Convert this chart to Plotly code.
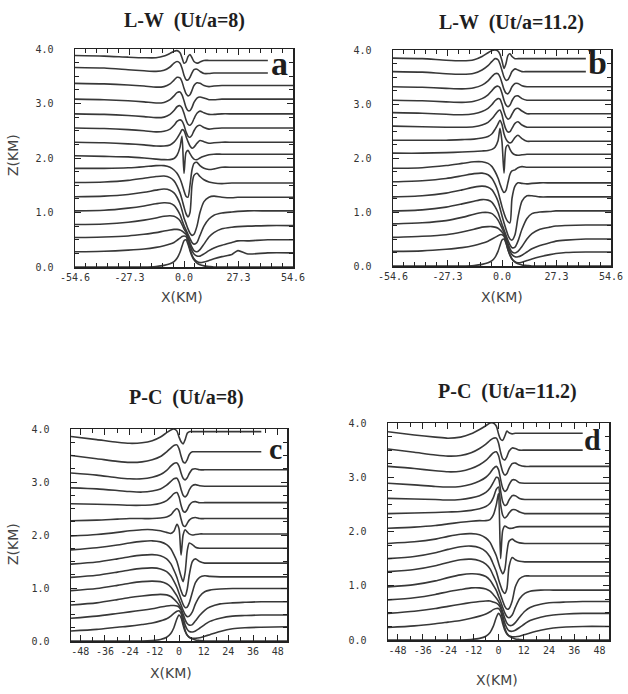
import plotly.graph_objects as go

# ---------------- data ----------------
GRID_AB = [-54.6, -40, -28, -20, -14, -10, -7, -5, -3.5, -2, -1, 0, 1, 2, 3, 4, 5, 6.5, 8, 10, 12.5, 15, 19, 24, 27, 32, 42, 54.6]
GRID_CD = [-52.5, -40, -30, -24, -18, -13, -9, -6, -4, -2.5, -1, 0, 1, 2, 3, 4, 5, 6.5, 8, 10, 12.5, 15, 20, 26, 32, 40, 52.5]

GROUND_AB = [0, 0, 0, 0, 0.01, 0.03, 0.06, 0.1, 0.16, 0.27, 0.38, 0.48, 0.5, 0.42, 0.3, 0.2, 0.13, 0.07, 0.04, 0.02, 0.01, 0, 0, 0, 0, 0, 0, 0]
GROUND_CD = [0, 0, 0, 0, 0, 0.01, 0.03, 0.07, 0.14, 0.25, 0.42, 0.49, 0.44, 0.3, 0.18, 0.11, 0.07, 0.04, 0.02, 0.01, 0, 0, 0, 0, 0, 0, 0]

LW8_LINES = [
    [0.28, 0.29, 0.31, 0.33, 0.36, 0.39, 0.42, 0.45, 0.49, 0.53, 0.56, 0.57, 0.56, 0.47, 0.33, 0.22, 0.15, 0.1, 0.08, 0.09, 0.12, 0.15, 0.19, 0.23, 0.3, 0.24, 0.26, 0.26],
    [0.54, 0.55, 0.57, 0.6, 0.63, 0.66, 0.68, 0.69, 0.69, 0.68, 0.66, 0.63, 0.6, 0.52, 0.4, 0.3, 0.24, 0.2, 0.2, 0.24, 0.3, 0.35, 0.4, 0.45, 0.48, 0.48, 0.5, 0.5],
    [0.78, 0.79, 0.82, 0.86, 0.9, 0.93, 0.94, 0.93, 0.9, 0.85, 0.78, 0.7, 0.64, 0.56, 0.45, 0.36, 0.3, 0.28, 0.32, 0.42, 0.55, 0.63, 0.7, 0.73, 0.74, 0.75, 0.76, 0.76],
    [1.03, 1.04, 1.08, 1.12, 1.16, 1.18, 1.17, 1.13, 1.06, 0.96, 0.86, 0.76, 0.68, 0.6, 0.52, 0.45, 0.42, 0.45, 0.58, 0.75, 0.88, 0.95, 0.99, 1.01, 1.02, 1.03, 1.03, 1.03],
    [1.29, 1.3, 1.33, 1.37, 1.41, 1.43, 1.41, 1.36, 1.28, 1.16, 1.04, 0.9, 0.8, 0.7, 0.62, 0.58, 0.6, 0.75, 1.0, 1.2, 1.28, 1.3, 1.28, 1.27, 1.28, 1.28, 1.28, 1.28],
    [1.55, 1.56, 1.59, 1.63, 1.66, 1.67, 1.64, 1.58, 1.49, 1.36, 1.24, 1.1, 0.98, 0.92, 1.0, 1.5, 1.68, 1.72, 1.66, 1.6, 1.56, 1.54, 1.53, 1.54, 1.54, 1.54, 1.54, 1.54],
    [1.81, 1.81, 1.82, 1.84, 1.86, 1.86, 1.83, 1.78, 1.72, 1.62, 1.52, 1.4, 1.3, 1.28, 1.5, 1.78, 1.9, 1.92, 1.86, 1.81, 1.79, 1.8, 1.83, 1.83, 1.83, 1.83, 1.83, 1.83],
    [2.04, 2.03, 2.02, 2.0, 1.98, 1.97, 1.97, 1.99, 2.05, 2.2, 2.4, 1.72, 2.1, 2.14, 2.08, 2.02, 1.98, 1.97, 2.0, 2.03, 2.06, 2.07, 2.07, 2.07, 2.07, 2.07, 2.07, 2.07],
    [2.29, 2.28, 2.26, 2.24, 2.22, 2.22, 2.24, 2.29, 2.36, 2.45, 2.52, 2.5, 2.4, 2.3, 2.22, 2.18, 2.2, 2.27, 2.32, 2.3, 2.27, 2.28, 2.29, 2.29, 2.29, 2.29, 2.29, 2.29],
    [2.55, 2.54, 2.52, 2.5, 2.48, 2.49, 2.53, 2.6, 2.67, 2.7, 2.68, 2.6, 2.48, 2.4, 2.38, 2.42, 2.5, 2.58, 2.6, 2.56, 2.53, 2.54, 2.55, 2.55, 2.55, 2.55, 2.55, 2.55],
    [2.81, 2.8, 2.78, 2.76, 2.74, 2.75, 2.8, 2.87, 2.94, 2.96, 2.92, 2.82, 2.7, 2.62, 2.6, 2.64, 2.72, 2.82, 2.86, 2.83, 2.8, 2.8, 2.81, 2.81, 2.81, 2.81, 2.81, 2.81],
    [3.08, 3.07, 3.05, 3.03, 3.01, 3.02, 3.07, 3.14, 3.2, 3.21, 3.16, 3.05, 2.93, 2.87, 2.87, 2.93, 3.02, 3.1, 3.12, 3.1, 3.07, 3.07, 3.08, 3.08, 3.08, 3.08, 3.08, 3.08],
    [3.37, 3.36, 3.34, 3.32, 3.3, 3.31, 3.36, 3.43, 3.48, 3.47, 3.4, 3.28, 3.18, 3.14, 3.16, 3.24, 3.33, 3.38, 3.37, 3.33, 3.31, 3.32, 3.33, 3.33, 3.33, 3.33, 3.33, 3.33],
    [3.66, 3.65, 3.62, 3.6, 3.59, 3.61, 3.67, 3.74, 3.77, 3.74, 3.65, 3.52, 3.44, 3.43, 3.48, 3.56, 3.62, 3.63, 3.59, 3.55, 3.55, 3.56, 3.56, 3.56, 3.56, 3.56, 3.56, None],
    [3.88, 3.87, 3.85, 3.84, 3.84, 3.87, 3.92, 3.96, 3.97, 3.93, 3.84, 3.74, 3.76, 3.86, 3.9, 3.84, 3.77, 3.74, 3.76, 3.79, 3.79, 3.79, 3.79, 3.79, 3.79, 3.79, 3.79, None],
]

LW112_LINES = [
    [0.27, 0.28, 0.31, 0.34, 0.38, 0.42, 0.46, 0.5, 0.53, 0.56, 0.58, 0.58, 0.55, 0.44, 0.3, 0.2, 0.13, 0.08, 0.06, 0.07, 0.1, 0.13, 0.17, 0.21, 0.23, 0.25, 0.26, 0.26],
    [0.53, 0.55, 0.58, 0.63, 0.68, 0.72, 0.73, 0.73, 0.72, 0.7, 0.67, 0.63, 0.58, 0.48, 0.36, 0.27, 0.21, 0.17, 0.17, 0.2, 0.26, 0.32, 0.38, 0.43, 0.46, 0.48, 0.5, 0.5],
    [0.78, 0.8, 0.84, 0.9, 0.96, 0.99, 0.99, 0.97, 0.92, 0.85, 0.78, 0.7, 0.62, 0.52, 0.41, 0.32, 0.26, 0.24, 0.27, 0.36, 0.5, 0.6, 0.68, 0.72, 0.74, 0.75, 0.76, 0.76],
    [1.02, 1.04, 1.09, 1.15, 1.2, 1.23, 1.22, 1.18, 1.1, 0.99, 0.88, 0.77, 0.67, 0.57, 0.47, 0.39, 0.34, 0.35, 0.46, 0.68, 0.88, 0.97, 1.0, 1.01, 1.02, 1.02, 1.02, 1.02],
    [1.28, 1.3, 1.35, 1.41, 1.46, 1.48, 1.46, 1.41, 1.32, 1.2, 1.07, 0.93, 0.8, 0.68, 0.57, 0.5, 0.48, 0.58, 0.9, 1.2, 1.3, 1.3, 1.28, 1.28, 1.28, 1.28, 1.28, 1.28],
    [1.56, 1.58, 1.62, 1.67, 1.71, 1.72, 1.69, 1.62, 1.52, 1.38, 1.24, 1.1, 0.98, 0.88, 0.82, 0.8, 1.25, 1.48, 1.54, 1.53, 1.52, 1.53, 1.54, 1.54, 1.54, 1.54, 1.54, 1.54],
    [1.81, 1.82, 1.86, 1.9, 1.93, 1.93, 1.9, 1.84, 1.75, 1.63, 1.52, 1.42, 1.36, 1.4, 1.55, 1.7, 1.76, 1.78, 1.82, 1.84, 1.83, 1.83, 1.83, 1.83, 1.83, 1.83, 1.83, 1.83],
    [2.09, 2.09, 2.1, 2.11, 2.12, 2.13, 2.14, 2.16, 2.2, 2.32, 2.55, 2.3, 1.72, 2.2, 2.24, 2.16, 2.1, 2.06, 2.05, 2.06, 2.07, 2.07, 2.07, 2.07, 2.07, 2.07, 2.07, 2.07],
    [2.33, 2.33, 2.33, 2.34, 2.35, 2.37, 2.4, 2.45, 2.53, 2.63, 2.7, 2.62, 2.45, 2.35, 2.3, 2.28, 2.3, 2.38, 2.42, 2.36, 2.31, 2.31, 2.31, 2.31, 2.31, 2.31, 2.31, 2.31],
    [2.59, 2.58, 2.57, 2.57, 2.58, 2.61, 2.66, 2.73, 2.8, 2.87, 2.89, 2.8, 2.64, 2.53, 2.48, 2.49, 2.55, 2.64, 2.67, 2.61, 2.57, 2.57, 2.57, 2.57, 2.57, 2.57, 2.57, 2.57],
    [2.84, 2.83, 2.81, 2.8, 2.82, 2.86, 2.92, 2.99, 3.06, 3.1, 3.09, 3.0, 2.86, 2.76, 2.72, 2.74, 2.81, 2.9, 2.92, 2.87, 2.82, 2.82, 2.82, 2.82, 2.82, 2.82, 2.82, 2.82],
    [3.07, 3.06, 3.04, 3.03, 3.05, 3.1, 3.17, 3.25, 3.31, 3.33, 3.3, 3.2, 3.07, 2.98, 2.95, 2.98, 3.06, 3.14, 3.15, 3.1, 3.07, 3.07, 3.07, 3.07, 3.07, 3.07, 3.07, 3.07],
    [3.32, 3.31, 3.29, 3.28, 3.3, 3.35, 3.43, 3.51, 3.56, 3.56, 3.5, 3.39, 3.27, 3.2, 3.19, 3.24, 3.32, 3.38, 3.38, 3.34, 3.32, 3.32, 3.32, 3.32, 3.32, 3.32, 3.32, 3.32],
    [3.6, 3.59, 3.56, 3.55, 3.57, 3.63, 3.71, 3.79, 3.84, 3.82, 3.74, 3.62, 3.5, 3.44, 3.45, 3.52, 3.6, 3.65, 3.63, 3.6, 3.6, 3.6, 3.6, 3.6, 3.6, 3.6, 3.6, None],
    [3.85, 3.84, 3.81, 3.8, 3.82, 3.88, 3.95, 3.99, 4.0, 3.98, 3.92, 3.8, 3.66, 3.75, 3.9, 3.93, 3.88, 3.84, 3.84, 3.84, 3.84, 3.84, 3.84, 3.84, 3.84, 3.84, 3.84, None],
]

PC8_LINES = [
    [0.19, 0.22, 0.26, 0.28, 0.31, 0.34, 0.38, 0.42, 0.47, 0.52, 0.56, 0.57, 0.52, 0.36, 0.2, 0.11, 0.07, 0.05, 0.05, 0.06, 0.09, 0.12, 0.18, 0.23, 0.25, 0.26, 0.27],
    [0.43, 0.47, 0.52, 0.55, 0.58, 0.61, 0.64, 0.66, 0.67, 0.67, 0.66, 0.64, 0.58, 0.44, 0.3, 0.22, 0.18, 0.17, 0.19, 0.24, 0.31, 0.37, 0.43, 0.47, 0.48, 0.49, 0.49],
    [0.68, 0.72, 0.78, 0.82, 0.85, 0.87, 0.88, 0.87, 0.84, 0.79, 0.73, 0.68, 0.61, 0.51, 0.4, 0.33, 0.3, 0.31, 0.38, 0.48, 0.58, 0.64, 0.7, 0.72, 0.73, 0.74, 0.74],
    [0.95, 0.99, 1.05, 1.09, 1.12, 1.13, 1.12, 1.08, 1.02, 0.94, 0.85, 0.77, 0.68, 0.58, 0.5, 0.46, 0.47, 0.55, 0.7, 0.84, 0.93, 0.96, 0.98, 0.99, 0.99, 0.99, 0.99],
    [1.2, 1.24, 1.3, 1.34, 1.37, 1.38, 1.36, 1.31, 1.23, 1.13, 1.01, 0.9, 0.79, 0.69, 0.63, 0.64, 0.72, 0.92, 1.1, 1.2, 1.23, 1.22, 1.21, 1.21, 1.21, 1.21, 1.21],
    [1.45, 1.49, 1.55, 1.59, 1.62, 1.63, 1.61, 1.55, 1.46, 1.34, 1.2, 1.07, 0.95, 0.86, 0.85, 0.98, 1.25, 1.5, 1.55, 1.5, 1.47, 1.47, 1.47, 1.47, 1.47, 1.47, 1.47],
    [1.72, 1.76, 1.81, 1.85, 1.88, 1.89, 1.87, 1.82, 1.74, 1.63, 1.5, 1.36, 1.22, 1.12, 1.3, 1.7, 1.85, 1.82, 1.77, 1.75, 1.75, 1.75, 1.75, 1.75, 1.75, 1.75, 1.75],
    [1.98, 2.01, 2.05, 2.08, 2.1, 2.1, 2.08, 2.05, 2.03, 2.07, 2.2, 2.12, 1.62, 2.0, 2.1, 2.06, 2.02, 2.0, 2.01, 2.02, 2.02, 2.02, 2.02, 2.02, 2.02, 2.02, 2.02],
    [2.27, 2.28, 2.3, 2.31, 2.31, 2.31, 2.32, 2.34, 2.38, 2.45, 2.5, 2.45, 2.3, 2.18, 2.16, 2.22, 2.28, 2.32, 2.33, 2.31, 2.31, 2.31, 2.31, 2.31, 2.31, 2.31, 2.31],
    [2.59, 2.58, 2.57, 2.56, 2.56, 2.57, 2.6, 2.65, 2.72, 2.78, 2.8, 2.72, 2.56, 2.45, 2.43, 2.48, 2.56, 2.62, 2.63, 2.61, 2.61, 2.61, 2.61, 2.61, 2.61, 2.61, 2.61],
    [2.89, 2.87, 2.84, 2.82, 2.81, 2.83, 2.87, 2.94, 3.01, 3.06, 3.07, 3.0, 2.86, 2.75, 2.72, 2.76, 2.85, 2.93, 2.95, 2.93, 2.92, 2.92, 2.92, 2.92, 2.92, 2.92, 2.92],
    [3.17, 3.13, 3.08, 3.06, 3.06, 3.09, 3.14, 3.22, 3.3, 3.35, 3.36, 3.3, 3.17, 3.07, 3.04, 3.08, 3.16, 3.24, 3.25, 3.23, 3.23, 3.23, 3.23, 3.23, 3.23, 3.23, 3.23],
    [3.5, 3.44, 3.39, 3.37, 3.38, 3.42, 3.48, 3.57, 3.64, 3.69, 3.7, 3.63, 3.49, 3.38, 3.36, 3.42, 3.52, 3.57, 3.57, 3.57, 3.57, 3.57, 3.57, 3.57, 3.57, 3.57, None],
    [3.86, 3.8, 3.75, 3.73, 3.74, 3.78, 3.85, 3.93, 3.98, 4.0, 3.96, 3.85, 3.76, 3.72, 3.8, 3.92, 3.95, 3.95, 3.95, 3.95, 3.95, 3.95, 3.95, 3.95, 3.95, 3.95, None],
]

PC112_LINES = [
    [0.23, 0.26, 0.3, 0.33, 0.36, 0.4, 0.44, 0.48, 0.52, 0.56, 0.58, 0.58, 0.53, 0.38, 0.22, 0.12, 0.08, 0.06, 0.06, 0.07, 0.1, 0.13, 0.18, 0.22, 0.24, 0.25, 0.25],
    [0.49, 0.53, 0.58, 0.62, 0.66, 0.69, 0.71, 0.72, 0.72, 0.7, 0.68, 0.65, 0.59, 0.45, 0.31, 0.22, 0.17, 0.16, 0.18, 0.23, 0.3, 0.36, 0.42, 0.46, 0.48, 0.49, 0.49],
    [0.74, 0.78, 0.84, 0.89, 0.93, 0.96, 0.96, 0.94, 0.9, 0.84, 0.77, 0.71, 0.63, 0.52, 0.4, 0.31, 0.27, 0.27, 0.32, 0.42, 0.53, 0.6, 0.66, 0.69, 0.7, 0.71, 0.71],
    [0.98, 1.02, 1.09, 1.15, 1.2, 1.22, 1.21, 1.17, 1.1, 1.01, 0.91, 0.81, 0.71, 0.6, 0.5, 0.43, 0.41, 0.46, 0.6, 0.76, 0.86, 0.9, 0.92, 0.92, 0.92, 0.92, 0.92],
    [1.26, 1.3, 1.37, 1.43, 1.48, 1.49, 1.46, 1.4, 1.31, 1.19, 1.06, 0.94, 0.83, 0.72, 0.62, 0.57, 0.58, 0.72, 0.98, 1.13, 1.18, 1.18, 1.18, 1.18, 1.18, 1.18, 1.18],
    [1.5, 1.54, 1.61, 1.67, 1.72, 1.73, 1.7, 1.63, 1.53, 1.4, 1.26, 1.12, 1.0, 0.9, 0.86, 0.95, 1.35, 1.52, 1.48, 1.45, 1.44, 1.44, 1.44, 1.44, 1.44, 1.44, 1.44],
    [1.78, 1.81, 1.86, 1.91, 1.95, 1.96, 1.94, 1.88, 1.8, 1.68, 1.55, 1.42, 1.3, 1.22, 1.3, 1.62, 1.82, 1.86, 1.82, 1.79, 1.78, 1.78, 1.78, 1.78, 1.78, 1.78, 1.78],
    [2.06, 2.08, 2.11, 2.14, 2.17, 2.19, 2.2, 2.2, 2.22, 2.3, 2.5, 2.7, 1.5, 2.02, 2.1, 2.08, 2.06, 2.06, 2.08, 2.09, 2.09, 2.09, 2.09, 2.09, 2.09, 2.09, 2.09],
    [2.33, 2.34, 2.35, 2.36, 2.37, 2.39, 2.42, 2.46, 2.52, 2.62, 2.78, 2.82, 2.5, 2.3, 2.25, 2.28, 2.34, 2.4, 2.4, 2.36, 2.33, 2.33, 2.33, 2.33, 2.33, 2.33, 2.33],
    [2.61, 2.6, 2.59, 2.58, 2.59, 2.62, 2.66, 2.72, 2.8, 2.9, 3.0, 2.98, 2.75, 2.55, 2.48, 2.5, 2.58, 2.66, 2.66, 2.61, 2.59, 2.59, 2.59, 2.59, 2.59, 2.59, 2.59],
    [2.89, 2.86, 2.83, 2.82, 2.83, 2.87, 2.93, 3.0, 3.08, 3.16, 3.2, 3.14, 2.96, 2.8, 2.74, 2.77, 2.86, 2.95, 2.95, 2.9, 2.89, 2.89, 2.89, 2.89, 2.89, 2.89, 2.89],
    [3.2, 3.16, 3.12, 3.1, 3.11, 3.16, 3.23, 3.31, 3.39, 3.45, 3.47, 3.4, 3.24, 3.1, 3.04, 3.07, 3.16, 3.25, 3.26, 3.22, 3.2, 3.2, 3.2, 3.2, 3.2, 3.2, 3.2],
    [3.52, 3.46, 3.41, 3.39, 3.4, 3.45, 3.53, 3.61, 3.68, 3.72, 3.72, 3.63, 3.46, 3.34, 3.32, 3.38, 3.48, 3.54, 3.53, 3.5, 3.5, 3.5, 3.5, 3.5, 3.5, 3.5, None],
    [3.84, 3.78, 3.74, 3.72, 3.74, 3.8, 3.88, 3.95, 4.0, 4.0, 3.94, 3.8, 3.7, 3.68, 3.76, 3.85, 3.82, 3.8, 3.81, 3.81, 3.81, 3.81, 3.81, 3.81, 3.81, 3.81, None],
]

TITLES = ["L-W  (Ut/a=8)", "L-W  (Ut/a=11.2)", "P-C  (Ut/a=8)", "P-C  (Ut/a=11.2)"]
LETTERS = ["a", "b", "c", "d"]
X_TICKS_AB = [-54.6, -27.3, 0.0, 27.3, 54.6]
X_LABELS_AB = ["-54.6", "-27.3", "0.0", "27.3", "54.6"]
X_TICKS_CD = [-48, -36, -24, -12, 0, 12, 24, 36, 48]
X_LABELS_CD = ["-48", "-36", "-24", "-12", "0", "12", "24", "36", "48"]
Y_TICKS = [0, 1, 2, 3, 4]
Y_LABELS = ["0.0", "1.0", "2.0", "3.0", "4.0"]

# ---------------- layout ----------------
W, H = 628, 694
LINE_COLOR = "#383838"
AX_COLOR = "#222"

# panel pixel boxes (left, right, top, bottom)
BOXES = [(75, 293, 49, 267), (393, 611, 50, 266), (71, 287, 429, 641), (388, 609, 423, 640)]

fig = go.Figure()

panels = [
    (GRID_AB, GROUND_AB, LW8_LINES),
    (GRID_AB, GROUND_AB, LW112_LINES),
    (GRID_CD, GROUND_CD, PC8_LINES),
    (GRID_CD, GROUND_CD, PC112_LINES),
]

for i, (grid, ground, lines) in enumerate(panels):
    xa = "x" if i == 0 else f"x{i+1}"
    ya = "y" if i == 0 else f"y{i+1}"
    for row in [ground] + lines:
        fig.add_trace(go.Scatter(
            x=grid, y=row, mode="lines", xaxis=xa, yaxis=ya,
            line=dict(color=LINE_COLOR, width=1.6, shape="spline", smoothing=0.7),
            connectgaps=False, showlegend=False, hoverinfo="skip"))

tickfont = dict(family="DejaVu Sans Mono", size=10, color="#333")
for i, (l, r, t, b) in enumerate(BOXES):
    sx = "" if i == 0 else str(i + 1)
    ab = i < 2
    xr = [-54.6, 54.6] if ab else [-52.5, 52.5]
    fig.layout[f"xaxis{sx}"] = dict(
        domain=[l / W, r / W], anchor=f"y{sx}", range=xr, automargin=False,
        tickmode="array",
        tickvals=X_TICKS_AB if ab else X_TICKS_CD,
        ticktext=X_LABELS_AB if ab else X_LABELS_CD,
        ticks="inside", ticklen=6, tickwidth=1, tickcolor=AX_COLOR,
        minor=dict(ticks="inside", ticklen=4, tickwidth=1, tickcolor=AX_COLOR,
                   tickmode="linear", tick0=-54.6 if ab else -48,
                   dtick=5.46 if ab else 6, showgrid=False),
        showline=True, linecolor=AX_COLOR, linewidth=1.5, mirror="ticks",
        showgrid=False, zeroline=False, tickfont=tickfont,
        ticklabelstandoff=0, ticklabeloverflow="allow")
    fig.layout[f"yaxis{sx}"] = dict(
        domain=[1 - b / H, 1 - t / H], anchor=f"x{sx}", range=[0, 4], automargin=False,
        tickmode="array", tickvals=Y_TICKS, ticktext=Y_LABELS,
        ticks="inside", ticklen=6, tickwidth=1, tickcolor=AX_COLOR,
        minor=dict(ticks="inside", ticklen=4, tickwidth=1, tickcolor=AX_COLOR,
                   tickmode="linear", tick0=0, dtick=0.25, showgrid=False),
        showline=True, linecolor=AX_COLOR, linewidth=1.5, mirror="ticks",
        showgrid=False, zeroline=False, tickfont=tickfont,
        ticklabelstandoff=18, ticklabeloverflow="allow")

annotations = []
TITLE_POS = [(184, 21), (511, 22), (186, 397), (507, 391)]
for (cx, cy), txt in zip(TITLE_POS, TITLES):
    annotations.append(dict(x=cx / W, y=1 - cy / H, xref="paper", yref="paper",
                            text=f"<b>{txt}</b>", showarrow=False,
                            font=dict(family="Liberation Serif", size=20, color="#1e1e1e"),
                            xanchor="center", yanchor="middle"))
LETTER_POS = [(279, 64, 34), (597, 62, 34), (275, 448, 30), (592, 439, 30)]
for (cx, cy, fs), txt in zip(LETTER_POS, LETTERS):
    annotations.append(dict(x=cx / W, y=1 - cy / H, xref="paper", yref="paper",
                            text=f"<b>{txt}</b>", showarrow=False,
                            font=dict(family="Liberation Serif", size=fs, color="#1e1e1e"),
                            xanchor="center", yanchor="middle"))
axfont = dict(family="DejaVu Sans", size=14, color="#444")
for cx, cy in [(182, 297), (502, 297), (171, 673), (497, 680)]:
    annotations.append(dict(x=cx / W, y=1 - cy / H, xref="paper", yref="paper",
                            text="X(KM)", showarrow=False, font=axfont,
                            xanchor="center", yanchor="middle"))
for cx, cy in [(13, 155), (13, 544)]:
    annotations.append(dict(x=cx / W, y=1 - cy / H, xref="paper", yref="paper",
                            text="Z(KM)", showarrow=False, font=axfont, textangle=-90,
                            xanchor="center", yanchor="middle"))

fig.update_layout(width=W, height=H, margin=dict(l=0, r=0, t=0, b=0, autoexpand=False),
                  paper_bgcolor="white", plot_bgcolor="white",
                  annotations=annotations, showlegend=False)

fig.write_html("out.html",
               config={"displayModeBar": False, "staticPlot": True},
               post_script="document.body.style.margin='0';document.body.style.overflow='hidden';")
